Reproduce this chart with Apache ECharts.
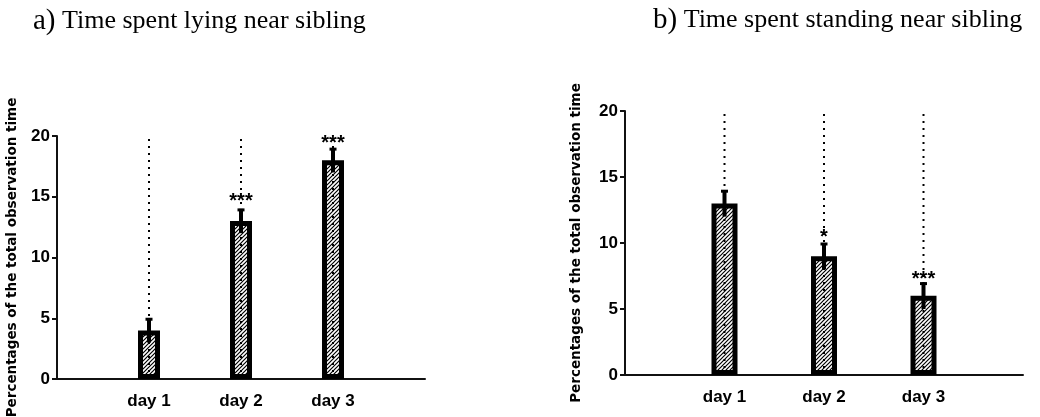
<!DOCTYPE html>
<html>
<head>
<meta charset="utf-8">
<script src="https://cdn.jsdelivr.net/npm/echarts@6/dist/echarts.min.js"></script>
<style>html,body{margin:0;padding:0;background:#fff}#c{width:1040px;height:417px}</style>
</head>
<body>
<div id="c"></div>
<script>
// ---- data ----
var categories = ['', 'day 1', 'day 2', 'day 3', ''];
var yTicks = [0, 5, 10, 15, 20];
var lyingMeans = [4, 13, 18];
var lyingErr = [1, 1, 1];
var lyingStars = ['', '***', '***'];
var lyingStarY = [0, 14.6, 19.4];
var standingMeans = [13, 9, 6];
var standingErr = [1, 1, 1];
var standingStars = ['', '*', '***'];
var standingStarY = [0, 10.4, 7.2];
var titleA = 'a)';
var titleAText = ' Time spent lying near sibling';
var titleB = 'b)';
var titleBText = ' Time spent standing near sibling';
var yName = 'Percentages of the total observation time';

// hatch pattern
var pc = document.createElement('canvas');
pc.width = 4; pc.height = 4;
var ctx = pc.getContext('2d');
ctx.fillStyle = '#fff'; ctx.fillRect(0, 0, 4, 4);
ctx.strokeStyle = '#000'; ctx.lineWidth = 1.2;
ctx.beginPath();
ctx.moveTo(-1, 5); ctx.lineTo(5, -1);
ctx.moveTo(-1, 1); ctx.lineTo(1, -1);
ctx.moveTo(3, 5); ctx.lineTo(5, 3);
ctx.stroke();
var hatch = { image: pc, repeat: 'repeat' };

var yMax = yTicks[yTicks.length - 1];
var sans = 'Liberation Sans, Arial, sans-serif';
var wide = 'DejaVu Sans, sans-serif';
var serif = 'Liberation Serif, Times New Roman, serif';

function pad(arr) { return [null].concat(arr).concat([null]); }

function render(starsArr) {
  return function (params, api) {
    var i = api.value(0), v = api.value(1), e = api.value(2), sy = api.value(3);
    var base = api.coord([i, 0]), top = api.coord([i, yMax]);
    var hi = api.coord([i, v + e]), lo = api.coord([i, v - e]);
    var s = api.coord([i, sy]);
    var ch = [
      { type: 'line', shape: { x1: base[0], y1: base[1], x2: top[0], y2: top[1] },
        style: { stroke: '#000', lineWidth: 2, lineDash: [2, 5] } },
      { type: 'line', shape: { x1: lo[0], y1: lo[1], x2: hi[0], y2: hi[1] },
        style: { stroke: '#000', lineWidth: 4 } },
      { type: 'line', shape: { x1: hi[0] - 3.5, y1: hi[1] + 1, x2: hi[0] + 3.5, y2: hi[1] + 1 },
        style: { stroke: '#000', lineWidth: 3 } }
    ];
    var lab = starsArr[params.dataIndex];
    if (lab) {
      ch.push({ type: 'text', x: s[0], y: s[1],
        style: { text: lab, fill: '#000', font: 'bold 20px ' + sans, align: 'center', verticalAlign: 'middle' } });
    }
    return { type: 'group', children: ch };
  };
}

function customData(means, errs, starY) {
  return means.map(function (m, k) { return [k + 1, m, errs[k], starY[k]]; });
}

function xAxis(gi) {
  return {
    type: 'category', gridIndex: gi, data: categories, boundaryGap: false,
    axisLine: { lineStyle: { color: '#111', width: 2 } },
    axisTick: { show: false },
    axisLabel: { color: '#000', fontFamily: sans, fontWeight: 'bold', fontSize: 17, margin: 14, interval: 0 }
  };
}
function yAxis(gi, gap) {
  return {
    type: 'value', gridIndex: gi, min: 0, max: yMax, interval: 5,
    name: yName, nameLocation: 'middle', nameRotate: 90, nameGap: gap,
    nameTextStyle: { color: '#000', fontFamily: wide, fontWeight: 'bold', fontSize: 13.5 },
    axisLine: { show: true, lineStyle: { color: '#111', width: 2 } },
    axisTick: { show: true, length: 5, lineStyle: { color: '#111', width: 2 } },
    axisLabel: { color: '#000', fontFamily: sans, fontWeight: 'bold', fontSize: 17, margin: 7 },
    splitLine: { show: false }
  };
}
var barStyle = { color: hatch, borderColor: '#000', borderWidth: 5 };
var titleStyle = { color: '#000', fontFamily: serif, fontWeight: 'normal', fontSize: 26,
  rich: { a: { fontSize: 29, fontFamily: serif, color: '#000' } } };

var chart = echarts.init(document.getElementById('c'), null, { renderer: 'canvas' });
chart.setOption({
  animation: false,
  backgroundColor: '#fff',
  title: [
    { text: '{a|' + titleA + '}' + titleAText, left: 33, top: 7, padding: 0, textStyle: titleStyle },
    { text: '{a|' + titleB + '}' + titleBText, left: 653, top: 6, padding: 0, textStyle: titleStyle }
  ],
  grid: [
    { left: 57, top: 136, width: 368, height: 243, outerBoundsMode: 'none', containLabel: false },
    { left: 625, top: 111, width: 398, height: 264, outerBoundsMode: 'none', containLabel: false }
  ],
  xAxis: [xAxis(0), xAxis(1)],
  yAxis: [yAxis(0, 38), yAxis(1, 42)],
  series: [
    { type: 'bar', xAxisIndex: 0, yAxisIndex: 0, data: pad(lyingMeans), barWidth: 22, itemStyle: barStyle, z: 2 },
    { type: 'custom', xAxisIndex: 0, yAxisIndex: 0, data: customData(lyingMeans, lyingErr, lyingStarY),
      renderItem: render(lyingStars), encode: { x: 0, y: 1 }, z: 3, clip: false },
    { type: 'bar', xAxisIndex: 1, yAxisIndex: 1, data: pad(standingMeans), barWidth: 26, itemStyle: barStyle, z: 2 },
    { type: 'custom', xAxisIndex: 1, yAxisIndex: 1, data: customData(standingMeans, standingErr, standingStarY),
      renderItem: render(standingStars), encode: { x: 0, y: 1 }, z: 3, clip: false }
  ]
});
</script>
</body>
</html>
